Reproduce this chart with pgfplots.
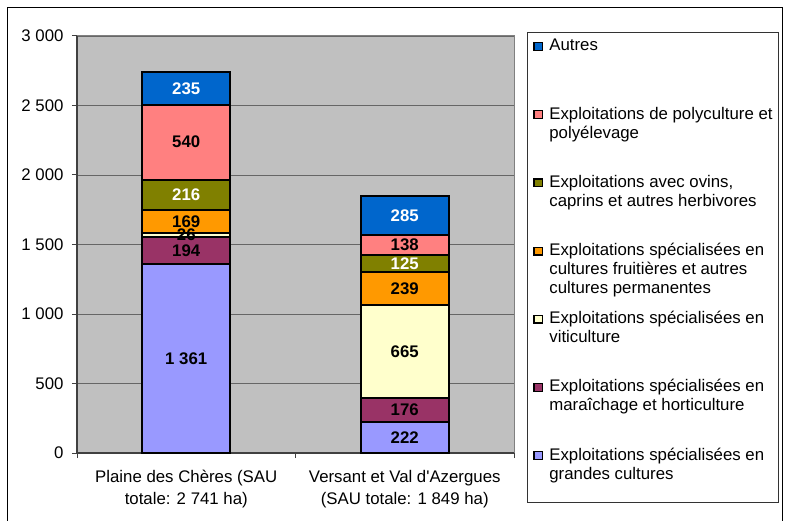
\documentclass[border=0pt]{standalone}
\usepackage{pgfplots}
\pgfplotsset{compat=1.18}
\usepackage{fontspec}
\setmainfont{Liberation Sans}
\definecolor{cAut}{HTML}{0066CC}
\definecolor{cPol}{HTML}{FF8080}
\definecolor{cOvi}{HTML}{808000}
\definecolor{cFru}{HTML}{FF9900}
\definecolor{cVit}{HTML}{FFFFCC}
\definecolor{cMar}{HTML}{993366}
\definecolor{cGC}{HTML}{9999FF}
\definecolor{plotbg}{HTML}{C0C0C0}
\newcommand{\fs}{\fontsize{16.8}{19}\selectfont}
\newcommand{\LE}[1]{\parbox[t]{222pt}{\fs #1}}
\pgfplotsset{
  swA/.style={legend image code/.code={
     \path[draw=none, fill=none] (0pt,18.5pt) rectangle (10pt,-49.7pt);
     \draw[draw=black, fill=#1, line width=1.3pt] (0.65pt,0.65pt) rectangle (9.35pt,8.35pt);}},
  swB/.style={legend image code/.code={
     \path[draw=none, fill=none] (0pt,18.5pt) rectangle (10pt,-42.3pt);
     \draw[draw=black, fill=#1, line width=1.3pt] (0.65pt,0.65pt) rectangle (9.35pt,8.35pt);}},
}
\begin{document}
\begin{tikzpicture}[x=1pt,y=1pt]
\useasboundingbox (0,0) rectangle (786,-521);
\draw[black, line width=1pt] (7,-8) rectangle (782,-540);
\begin{axis}[
  at={(77pt,-453pt)}, anchor=south west,
  scale only axis, width=437pt, height=417pt,
  ybar stacked, bar width=88pt,
  xmin=-0.5, xmax=1.5, ymin=0, ymax=3000,
  axis background/.style={fill=plotbg, draw=black!50, line width=1pt},
  axis x line*=bottom, axis y line*=left,
  axis line style={black!75, line width=1.6pt},
  ymajorgrids, grid style={black!60, line width=0.8pt},
  tick align=outside, major tick length=5pt,
  tick style={black!75, line width=1pt},
  ytick={0,500,1000,1500,2000,2500,3000},
  yticklabels={0,500,1 000,1 500,2 000,2 500,3 000},
  yticklabel style={font=\fs, xshift=-5pt},
  xtick={-0.5,0.5,1.5}, xticklabels={},
  extra x ticks={0,1},
  extra x tick labels={{Plaine des Chères (SAU\\totale: 2 741 ha)},{Versant et Val d\textquotesingle Azergues\\(SAU totale: 1 849 ha)}},
  extra x tick style={major tick length=0pt, tick style={draw=none},
     tick label style={align=center, yshift=-14pt, font=\fontsize{16.8}{22}\selectfont}},
  every axis plot/.append style={draw=black, line width=2pt},
]
\addplot[fill=cGC] coordinates {(0,1361) (1,222)};
\addplot[fill=cMar] coordinates {(0,194) (1,176)};
\addplot[fill=cVit] coordinates {(0,26) (1,665)};
\addplot[fill=cFru] coordinates {(0,169) (1,239)};
\addplot[fill=cOvi] coordinates {(0,216) (1,125)};
\addplot[fill=cPol] coordinates {(0,540) (1,138)};
\addplot[fill=cAut] coordinates {(0,235) (1,285)};
\end{axis}
\begin{axis}[
  at={(77pt,-453pt)}, anchor=south west,
  scale only axis, width=437pt, height=417pt,
  xmin=-0.5, xmax=1.5, ymin=0, ymax=3000,
  hide axis, clip=false,
  legend style={at={(1.0297,1.0096)}, anchor=north west, draw=black!80,
    line width=0.8pt, fill=white, inner xsep=6pt, inner ysep=0pt,
    column sep=6pt, row sep=0pt, cells={anchor=base west},
    nodes={inner sep=0pt, text depth={}}, font=\fs},
]
\addplot[draw=none, mark=none, forget plot, point meta=explicit symbolic,
  nodes near coords, nodes near coords style={anchor=center, font=\fs\bfseries, text=black}]
  coordinates {(0,680.5) [1 361] (0,1458) [194] (0,1568) [26] (0,1665.5) [169] (0,2236) [540]
               (1,111) [222] (1,310) [176] (1,730.5) [665] (1,1182.5) [239] (1,1496) [138]};
\addplot[draw=none, mark=none, forget plot, point meta=explicit symbolic,
  nodes near coords, nodes near coords style={anchor=center, font=\fs\bfseries, text=white}]
  coordinates {(0,1858) [216] (0,2623.5) [235] (1,1364.5) [125] (1,1707.5) [285]};
\addlegendimage{swA=cAut}
\addlegendentry{\LE{Autres}}
\addlegendimage{swA=cPol}
\addlegendentry{\LE{\hbox{Exploitations de polyculture et}\hbox{polyélevage}}}
\addlegendimage{swA=cOvi}
\addlegendentry{\LE{\hbox{Exploitations avec ovins,}\hbox{caprins et autres herbivores}}}
\addlegendimage{swA=cFru}
\addlegendentry{\LE{\hbox{Exploitations spécialisées en}\hbox{cultures fruitières et autres}\hbox{cultures permanentes}}}
\addlegendimage{swA=cVit}
\addlegendentry{\LE{\hbox{Exploitations spécialisées en}\hbox{viticulture}}}
\addlegendimage{swA=cMar}
\addlegendentry{\LE{\hbox{Exploitations spécialisées en}\hbox{maraîchage et horticulture}}}
\addlegendimage{swB=cGC}
\addlegendentry{\LE{\hbox{Exploitations spécialisées en}\hbox{grandes cultures}}}
\end{axis}
\end{tikzpicture}
\end{document}
